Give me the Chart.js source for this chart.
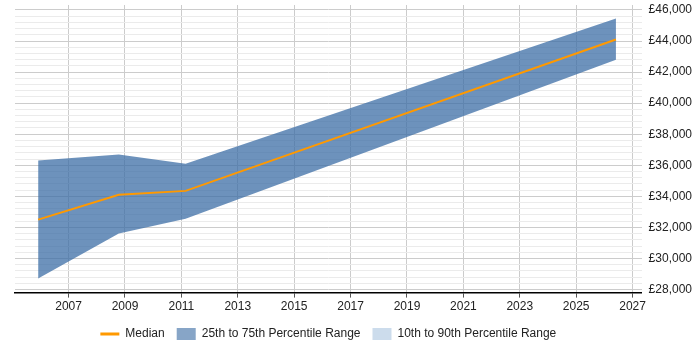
<!DOCTYPE html>
<html>
<head>
<meta charset="utf-8">
<script src="https://cdn.jsdelivr.net/npm/chart.js@4"></script>
<style>
  html, body { margin: 0; padding: 0; background: #fff; }
  #wrap { width: 700px; height: 350px; position: relative; }
</style>
</head>
<body>
<div id="wrap"><canvas id="c"></canvas></div>
<script>
// percentile data
const years = [2005.92, 2008.78, 2011.15, 2026.41];
const p75 = [36300, 36700, 36100, 45450];
const median = [32500, 34100, 34350, 44100];
const p25 = [28700, 31600, 32550, 42800];
const xTicks = [2007, 2009, 2011, 2013, 2015, 2017, 2019, 2021, 2023, 2025, 2027];
const yTicks = [];
for (let v = 28000; v <= 46000; v += 400) yTicks.push(v);

const pts = arr => arr.map((v, i) => ({ x: years[i], y: v }));
const fmt = v => '£' + v.toLocaleString('en-GB');

// centre the legend under the plot area rather than the whole canvas
const legendUnderPlot = {
  id: 'legendUnderPlot',
  beforeDraw(chart) {
    if (!chart.legend) return;
    chart.legend.left = chart.chartArea.left;
    chart.legend.right = chart.chartArea.right;
  },
};

new Chart(document.getElementById('c'), {
  type: 'line',
  data: {
    datasets: [
      { label: 'Median', data: pts(median), borderColor: '#ff9900', borderWidth: 2,
        pointRadius: 0, fill: false, order: 0 },
      { label: '25th to 75th Percentile Range', data: pts(p75), borderWidth: 0,
        borderColor: 'rgba(0,0,0,0)', backgroundColor: 'rgba(60,110,165,0.75)',
        pointRadius: 0, fill: '+1', order: 1 },
      { label: 'p25', data: pts(p25), borderWidth: 0, borderColor: 'rgba(0,0,0,0)',
        pointRadius: 0, fill: false, order: 2 },
      { label: '10th to 90th Percentile Range', data: [], backgroundColor: '#ccdcec',
        borderColor: '#ccdcec', pointRadius: 0, order: 3 },
    ],
  },
  plugins: [legendUnderPlot],
  options: {
    responsive: true,
    maintainAspectRatio: false,
    animation: false,
    layout: { padding: { left: 15, right: 1, top: 5, bottom: 0 } },
    plugins: {
      tooltip: { enabled: false },
      legend: {
        position: 'bottom',
        labels: {
          font: { family: 'Liberation Sans', size: 12 },
          color: '#222',
          usePointStyle: true,
          pointStyleWidth: 19,
          boxHeight: 12,
          padding: 12,
          generateLabels: chart => chart.data.datasets
            .map((ds, i) => ({ ds, i }))
            .filter(o => o.ds.label !== 'p25')
            .map(({ ds, i }) => ({
              text: ds.label,
              datasetIndex: i,
              fillStyle: i === 0 ? '#ff9900' : (i === 1 ? '#87a5c7' : '#ccdcec'),
              strokeStyle: i === 0 ? '#ff9900' : 'rgba(0,0,0,0)',
              lineWidth: i === 0 ? 3 : 0,
              pointStyle: i === 0 ? 'line' : 'rect',
              fontColor: '#222',
            })),
        },
      },
    },
    scales: {
      x: {
        type: 'linear',
        min: 2005.10,
        max: 2027.32,
        afterBuildTicks: axis => { axis.ticks = xTicks.map(v => ({ value: v })); },
        grid: { color: '#cccccc', tickLength: 5, tickColor: '#555' },
        border: { color: '#000', width: 1.5 },
        ticks: { font: { family: 'Liberation Sans', size: 12 }, color: '#222',
          maxRotation: 0, padding: 2, callback: v => String(v) },
      },
      y: {
        position: 'right',
        min: 27800,
        max: 46320,
        afterBuildTicks: axis => { axis.ticks = yTicks.map(v => ({ value: v })); },
        afterFit: axis => { axis.paddingTop = 0; axis.paddingBottom = 0; },
        grid: {
          color: c => (c.tick && c.tick.value % 2000 === 0) ? '#cccccc' : '#ebebeb',
          tickLength: 0,
        },
        border: { display: false },
        ticks: {
          font: { family: 'Liberation Sans', size: 12 }, color: '#222', padding: 7,
          autoSkip: false,
          callback: v => (v % 2000 === 0 ? fmt(v) : ''),
        },
      },
    },
  },
});
</script>
</body>
</html>
